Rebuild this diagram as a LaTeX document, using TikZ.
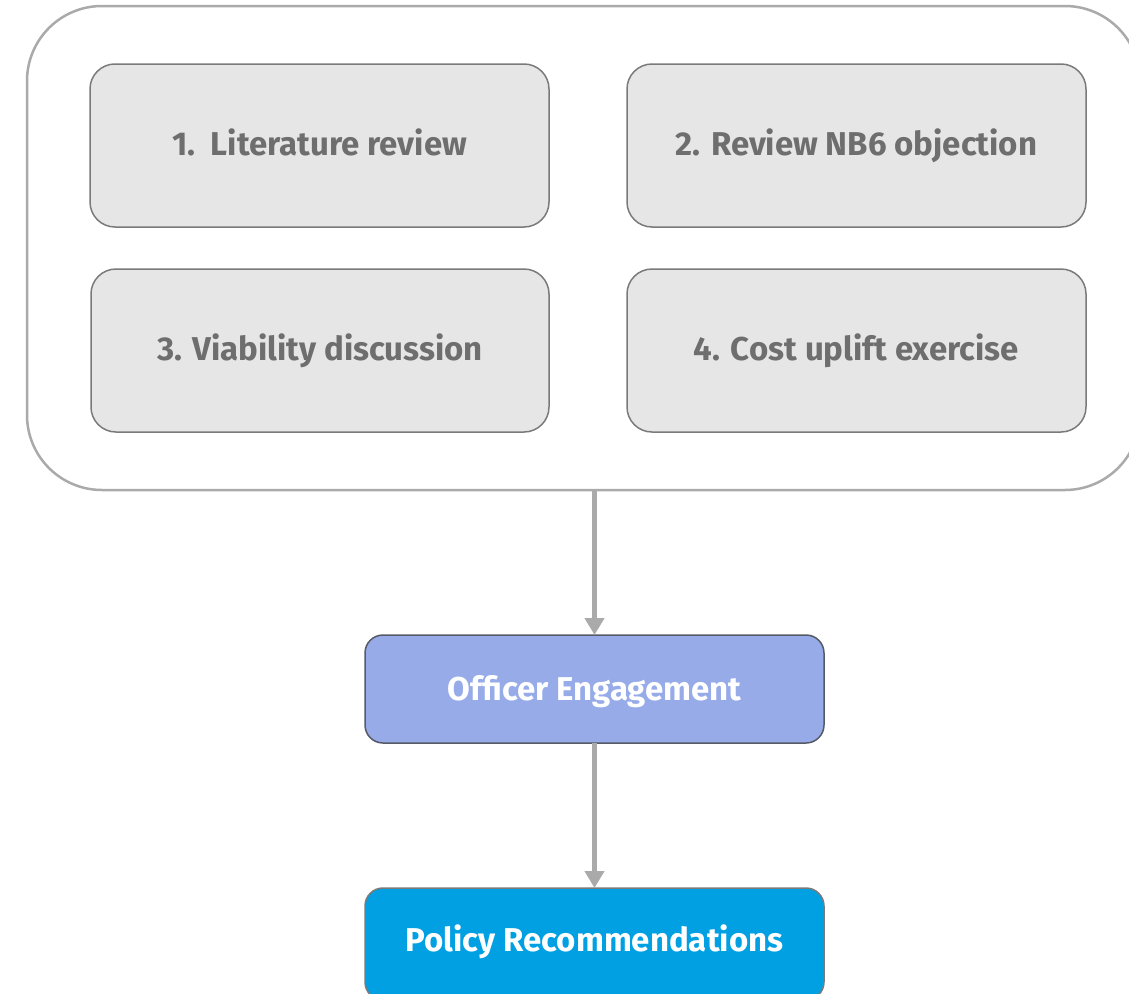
\documentclass[tikz,border=0pt]{standalone}
\usepackage{fontspec}
\setmainfont{Fira Sans}
\usetikzlibrary{arrows.meta}
\definecolor{framegray}{HTML}{AAAAAA}
\definecolor{stepfill}{HTML}{E6E6E6}
\definecolor{stepline}{HTML}{7A7A7A}
\definecolor{steptext}{HTML}{6E6E6E}
\definecolor{officerfill}{HTML}{96ABE8}
\definecolor{officerline}{HTML}{555A66}
\definecolor{policyfill}{HTML}{00A0E3}
\definecolor{policyline}{HTML}{7A7A7A}
\tikzset{
  x=1pt, y=-1pt,
  frame/.style={draw=framegray, line width=2.5pt, rounded corners=75pt},
  stepbox/.style={draw=stepline, fill=stepfill, line width=1.5pt, rounded corners=25pt},
  steplabel/.style={anchor=base, text=steptext, font=\fontsize{33}{38}\selectfont\bfseries},
  whitelabel/.style={anchor=base, text=white, font=\fontsize{33}{38}\selectfont\bfseries},
  flow/.style={draw=framegray, line width=5pt, -{Triangle[width=19pt,length=17pt]}},
}
\begin{document}
\begin{tikzpicture}
\useasboundingbox (0,0) rectangle (1129,993);
% outer container around the four steps
\draw[frame] (27,6) rectangle (1140,490);
\coordinate (frameout) at (594.5,490);
% the four steps
\draw[stepbox] (90,64) rectangle (549,227);
\draw[stepbox] (627,64) rectangle (1086,227);
\draw[stepbox] (91,269) rectangle (549,432);
\draw[stepbox] (627,269) rectangle (1086,432);
\node[steplabel] (s1) at (319.5,155) {1.\ \ Literature review};
\node[steplabel] (s2) at (856.5,155) {2. Review NB6 objection};
\node[steplabel] (s3) at (320,360) {3. Viability discussion};
\node[steplabel] (s4) at (856.5,360) {4. Cost uplift exercise};
% officer engagement
\draw[draw=officerline, fill=officerfill, line width=1.5pt, rounded corners=18pt] (365,635) rectangle (824,743);
\coordinate (offtop) at (594.5,635);
\coordinate (offbot) at (594.5,743);
\node[whitelabel] (off) at (594.5,700) {Officer Engagement};
% policy recommendations
\draw[draw=policyline, fill=policyfill, line width=1.5pt, rounded corners=18pt] (365,888) rectangle (824,1000);
\coordinate (poltop) at (594.5,888);
\node[whitelabel] (pol) at (594.5,951) {Policy Recommendations};
% connectors
\draw[flow] (frameout) -- (offtop);
\draw[flow] (offbot) -- (poltop);
\end{tikzpicture}
\end{document}
